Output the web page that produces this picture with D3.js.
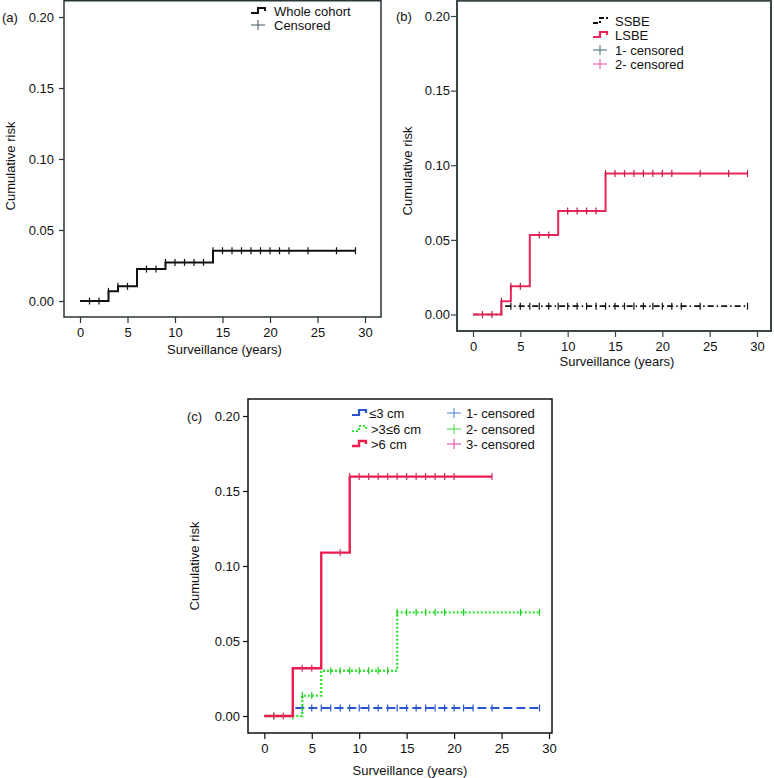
<!DOCTYPE html>
<html>
<head>
<meta charset="utf-8">
<script src="https://cdn.jsdelivr.net/npm/d3@7"></script>
<style>
  html, body { margin: 0; padding: 0; background: #fff; }
  svg { display: block; }
  text { font-family: "Liberation Sans", Arial, Helvetica, sans-serif; font-size: 13px; fill: #111; }
</style>
</head>
<body>
<svg id="chart" width="774" height="778"></svg>
<script>
// ---------- DATA ----------
const xTicks = [0, 5, 10, 15, 20, 25, 30];
const yTicks = [0, 0.05, 0.10, 0.15, 0.20];

// Panel (a): whole cohort
const wholeTimes  = [0, 3, 4, 6, 9, 14, 29];
const wholeRisk   = [0, 0.0068, 0.0103, 0.0225, 0.0272, 0.0354, 0.0354];
const wholeCensor = [1, 2, 3, 4, 5, 7, 8, 9, 10, 11, 12, 13, 14, 15, 16, 17, 18, 19, 20, 21, 22, 24, 27, 29];

// Panel (b): SSBE vs LSBE
const ssbeTimes  = [0, 3, 29];
const ssbeRisk   = [0, 0.0056, 0.0056];
const ssbeCensor = [3, 4, 5, 6, 7, 8, 9, 10, 11, 12, 13, 14, 15, 16, 17, 18, 19, 20, 21, 22, 24, 29];
const lsbeTimes  = [0, 3, 4, 6, 9, 14, 29];
const lsbeRisk   = [0, 0.0089, 0.019, 0.0532, 0.0693, 0.0944, 0.0944];
const lsbeCensor = [1, 2, 3, 4, 5, 7, 8, 10, 11, 12, 13, 14, 15, 16, 17, 18, 19, 20, 21, 24, 27, 29];

// Panel (c): by segment length
const smallTimes  = [0, 3, 29];
const smallRisk   = [0, 0.0053, 0.0053];
const smallCensor = [3, 4, 5, 6, 7, 8, 9, 10, 11, 12, 13, 14, 15, 16, 17, 18, 19, 20, 21, 22, 24, 29];
const midTimes    = [0, 4, 6, 14, 29];
const midRisk     = [0, 0.0136, 0.0302, 0.0691, 0.0691];
const midCensor   = [1, 3, 4, 5, 7, 8, 9, 10, 11, 12, 13, 14, 15, 16, 17, 18, 19, 21, 27, 29];
const largeTimes  = [0, 3, 6, 9, 24];
const largeRisk   = [0, 0.0318, 0.1089, 0.1596, 0.1596];
const largeCensor = [1, 2, 4, 5, 8, 9, 10, 11, 12, 13, 14, 15, 16, 17, 18, 19, 20, 24];

const legendA = ["Whole cohort", "Censored"];
const legendB = ["SSBE", "LSBE", "1- censored", "2- censored"];
const legendC1 = ["\u22643 cm", ">3\u22646 cm", ">6 cm"];
const legendC2 = ["1- censored", "2- censored", "3- censored"];

const xLabel = "Surveillance (years)";
const yLabel = "Cumulative risk";

// ---------- DRAW ----------
const svg = d3.select("#chart");
const fmt = d3.format(".2f");

function stepValue(times, risk, t) {
  let v = risk[0];
  for (let i = 0; i < times.length; i++) if (times[i] <= t) v = risk[i];
  return v;
}

function drawPanel(p) {
  const g = svg.append("g");
  const x = d3.scaleLinear().domain([0, 30]).range(p.xr);
  const y = d3.scaleLinear().domain([0, 0.2]).range(p.yr);

  // frame
  g.append("rect")
    .attr("x", p.box[0]).attr("y", p.box[1])
    .attr("width", p.box[2] - p.box[0]).attr("height", p.box[3] - p.box[1])
    .attr("fill", "none").attr("stroke", p.frameColor).attr("stroke-width", p.frameW);

  // axes
  const ya = g.append("g").attr("transform", `translate(${p.box[0]},0)`)
    .call(d3.axisLeft(y).tickValues(yTicks).tickFormat(fmt).tickSize(p.ytick).tickPadding(p.ypad));
  ya.select(".domain").remove();
  ya.selectAll("line").attr("stroke", p.frameColor).attr("stroke-width", 1.2);
  ya.selectAll("text").attr("fill", "#111").style("font-size", "13px")
    .style("font-family", '"Liberation Sans", Arial, sans-serif');

  const xa = g.append("g").attr("transform", `translate(0,${p.box[3]})`)
    .call(d3.axisBottom(x).tickValues(xTicks).tickFormat(d3.format("d")).tickSize(6).tickPadding(5));
  xa.select(".domain").remove();
  xa.selectAll("line").attr("stroke", p.frameColor).attr("stroke-width", 1.2);
  xa.selectAll("text").attr("fill", "#111").style("font-size", "13px")
    .style("font-family", '"Liberation Sans", Arial, sans-serif');

  // labels
  g.append("text").attr("x", p.xlab[0]).attr("y", p.xlab[1]).attr("text-anchor", "middle").text(xLabel);
  g.append("text").attr("transform", `translate(${p.ylab[0]},${p.ylab[1]}) rotate(-90)`)
    .attr("text-anchor", "middle").text(yLabel);
  g.append("text").attr("x", p.tag[0]).attr("y", p.tag[1]).text(p.tagText);

  // series
  const line = d3.line().x(d => x(d[0])).y(d => y(d[1])).curve(d3.curveStepAfter);
  p.series.forEach(s => {
    const pts = s.times.map((t, i) => [t, s.risk[i]]);
    g.append("path").attr("d", line(pts)).attr("fill", "none")
      .attr("stroke", s.color).attr("stroke-width", s.width)
      .attr("stroke-dasharray", s.dash || null);
    g.append("g").selectAll("line").data(s.censor).join("line")
      .attr("x1", d => x(d)).attr("x2", d => x(d))
      .attr("y1", d => y(stepValue(s.times, s.risk, d)) - 3.5)
      .attr("y2", d => y(stepValue(s.times, s.risk, d)) + 3.5)
      .attr("stroke", s.markColor).attr("stroke-width", 1.2);
  });
  return g;
}

function stepIcon(g, x0, yc, color, width, dash) {
  g.append("path")
    .attr("d", `M${x0},${yc + 2} H${x0 + 7} V${yc - 3} H${x0 + 14} V${yc}`)
    .attr("fill", "none").attr("stroke", color).attr("stroke-width", width)
    .attr("stroke-dasharray", dash || null);
}
function plusIcon(g, x0, yc, color) {
  g.append("line").attr("x1", x0).attr("x2", x0 + 14).attr("y1", yc).attr("y2", yc)
    .attr("stroke", color).attr("stroke-width", 1);
  g.append("line").attr("x1", x0 + 7).attr("x2", x0 + 7).attr("y1", yc - 5).attr("y2", yc + 5)
    .attr("stroke", color).attr("stroke-width", 1);
}
function legendText(g, x0, yc, txt) {
  g.append("text").attr("x", x0).attr("y", yc + 4.5).text(txt);
}

// Panel (a)
const ga = drawPanel({
  xr: [80, 365], yr: [301, 17], box: [64, 0.75, 381, 317],
  frameColor: "#2a3538", frameW: 1.5, ytick: 5, ypad: 5,
  xlab: [224.5, 354], ylab: [15, 166], tag: [2, 21.5], tagText: "(a)",
  series: [{ times: wholeTimes, risk: wholeRisk, censor: wholeCensor,
             color: "#111", width: 2, markColor: "#111" }]
});
stepIcon(ga, 251, 11, "#111", 2);
legendText(ga, 274, 11, legendA[0]);
plusIcon(ga, 251, 25, "#3f5a66");
legendText(ga, 274, 25, legendA[1]);

// Panel (b)
const gb = drawPanel({
  xr: [473, 757], yr: [314.5, 16], box: [457, 0.75, 771, 331],
  frameColor: "#3b4649", frameW: 2, ytick: 6, ypad: 1,
  xlab: [617, 365.5], ylab: [412, 171], tag: [396, 20.5], tagText: "(b)",
  series: [
    { times: ssbeTimes, risk: ssbeRisk, censor: ssbeCensor,
      color: "#111", width: 1.6, dash: "6,3,1.5,3", markColor: "#111" },
    { times: lsbeTimes, risk: lsbeRisk, censor: lsbeCensor,
      color: "#e8265a", width: 2, markColor: "#c0204a" }
  ]
});
stepIcon(gb, 593, 21, "#111", 2, "5,2,2,2");
legendText(gb, 615, 21, legendB[0]);
stepIcon(gb, 593, 35, "#e8265a", 2.2);
legendText(gb, 615, 35, legendB[1]);
plusIcon(gb, 593, 50, "#3f6a70");
legendText(gb, 615, 50, legendB[2]);
plusIcon(gb, 593, 64, "#e0509a");
legendText(gb, 615, 64, legendB[3]);

// Panel (c)
const gc = drawPanel({
  xr: [264.3, 549], yr: [716, 416], box: [248, 399, 552, 733],
  frameColor: "#111", frameW: 1.5, ytick: 5, ypad: 3,
  xlab: [410, 775], ylab: [199, 566], tag: [187, 420.5], tagText: "(c)",
  series: [
    { times: smallTimes, risk: smallRisk, censor: smallCensor,
      color: "#2855d0", width: 2, dash: "9,4", markColor: "#2855d0" },
    { times: midTimes, risk: midRisk, censor: midCensor,
      color: "#33e833", width: 2.4, dash: "2,2", markColor: "#22cc22" },
    { times: largeTimes, risk: largeRisk, censor: largeCensor,
      color: "#ee1c4e", width: 2.4, markColor: "#d0306a" }
  ]
});
stepIcon(gc, 352, 413, "#2855d0", 2.2);
legendText(gc, 369, 413, legendC1[0]);
stepIcon(gc, 352, 429, "#33e833", 2.2, "2,2");
legendText(gc, 371, 429, legendC1[1]);
stepIcon(gc, 352, 444, "#ee1c4e", 2.4);
legendText(gc, 371, 444, legendC1[2]);
plusIcon(gc, 447, 413, "#4a80d8");
legendText(gc, 466, 413, legendC2[0]);
plusIcon(gc, 447, 429, "#44dd44");
legendText(gc, 466, 429, legendC2[1]);
plusIcon(gc, 447, 444, "#e040a0");
legendText(gc, 466, 444, legendC2[2]);
</script>
</body>
</html>
